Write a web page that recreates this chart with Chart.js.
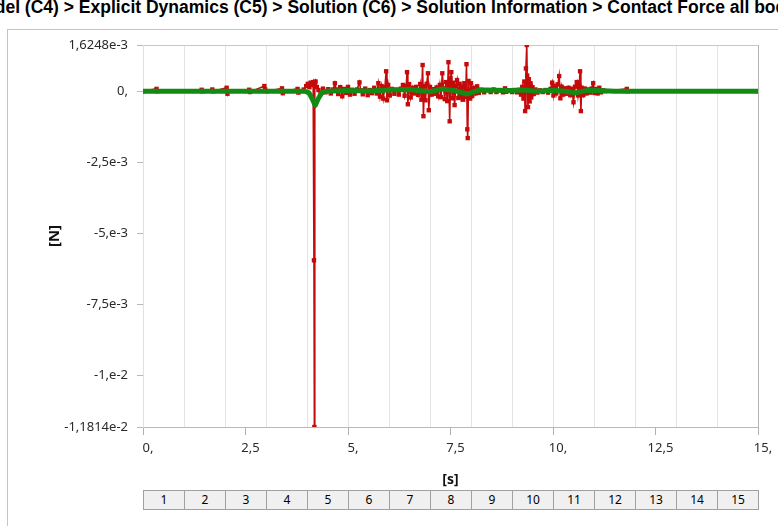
<!DOCTYPE html>
<html>
<head>
<meta charset="utf-8">
<script src="https://cdn.jsdelivr.net/npm/chart.js@4.4.1/dist/chart.umd.min.js"></script>
<style>
  html, body { margin: 0; padding: 0; background: #fff; overflow: hidden; }
  #wrap { position: relative; width: 778px; height: 526px; overflow: hidden; }
  #title { position: absolute; left: -300px; width: 1380px; top: -3px; line-height: 20px;
           text-align: center; white-space: nowrap; font: bold 17.5px "Liberation Sans", Arial, sans-serif; color: #000; }
  #frame { position: absolute; left: 7px; top: 29px; width: 900px; height: 700px; border: 1px solid #b7c6db; }
  canvas { position: absolute; left: 0; top: 0; }
  #table { position: absolute; top: 490px; height: 20px; }
  .cell { position: absolute; top: 0; height: 20px; box-sizing: border-box; border: 1px solid #a0a0a0; border-right: none;
          background: #f0f0f0; font: 12px "Noto Sans", sans-serif; color: #000; text-align: center; line-height: 18px;
          -webkit-font-smoothing: antialiased; }
  .cell.last { border-right: 1px solid #a0a0a0; }
</style>
</head>
<body>
<div id="wrap">
  <div id="frame"></div>
  <div id="title">Model (C4) &gt; Explicit Dynamics (C5) &gt; Solution (C6) &gt; Solution Information &gt; Contact Force all bodies</div>
  <canvas id="c" width="778" height="526"></canvas>
  <div id="table"></div>
</div>
<script>
// ---- data (time in s, force in N) ----
const redTime = [
  0.00, 0.33, 0.35, 1.43, 1.45, 1.69, 1.71, 2.04, 2.06, 2.08, 2.59, 2.61, 2.96, 2.98, 3.02,
  3.39, 3.41, 3.43, 3.77, 3.79, 3.81, 3.92, 3.98, 4.02, 4.06, 4.09, 4.12, 4.15, 4.17, 4.18,
  4.19, 4.21, 4.24, 4.28, 4.33, 4.39, 4.45, 4.52, 4.58, 4.64, 4.68, 4.71, 4.76, 4.81, 4.86,
  4.90, 4.95, 5.00, 5.05, 5.10, 5.16, 5.22, 5.28, 5.31, 5.36, 5.42, 5.48, 5.53, 5.58, 5.64,
  5.70, 5.74, 5.78, 5.82, 5.86, 5.90, 5.93, 5.95, 5.98, 6.02, 6.07, 6.13, 6.18, 6.24, 6.29,
  6.34, 6.38, 6.42, 6.44, 6.46, 6.49, 6.53, 6.57, 6.61, 6.66, 6.71, 6.76, 6.79, 6.82, 6.84,
  6.86, 6.89, 6.92, 6.95, 6.97, 7.00, 7.04, 7.08, 7.12, 7.16, 7.20, 7.24, 7.27, 7.30, 7.33,
  7.36, 7.39, 7.42, 7.45, 7.48, 7.50, 7.52, 7.54, 7.57, 7.60, 7.63, 7.66, 7.69, 7.72, 7.75,
  7.78, 7.81, 7.84, 7.87, 7.89, 7.91, 7.92, 7.94, 7.97, 8.00, 8.03, 8.07, 8.11, 8.15, 8.19,
  8.25, 8.32, 8.40, 8.48, 8.55, 8.62, 8.70, 8.78, 8.83, 8.86, 8.93, 9.00, 9.06, 9.12, 9.18,
  9.22, 9.25, 9.28, 9.30, 9.32, 9.34, 9.36, 9.37, 9.39, 9.41, 9.43, 9.45, 9.47, 9.50, 9.53,
  9.57, 9.62, 9.68, 9.75, 9.82, 9.88, 9.94, 9.98, 10.01, 10.05, 10.08, 10.12, 10.15, 10.18, 10.21,
  10.25, 10.29, 10.33, 10.38, 10.42, 10.46, 10.50, 10.54, 10.58, 10.61, 10.64, 10.66, 10.68, 10.70, 10.74,
  10.78, 10.82, 10.86, 10.90, 10.94, 10.98, 11.01, 11.05, 11.09, 11.13, 11.17, 11.22, 11.27, 11.80, 11.82,
  15.00
];
const redForce = [
  0, 0.8e-4, 0, 0.5e-4, 0, 0.6e-4, 0, 1.2e-4, -0.9e-4, 0, 0.5e-4, -0.3e-4, 1.8e-4, 0.6e-4, 0,
  1.0e-4, -0.7e-4, 0, 0.8e-4, -0.5e-4, 0, 0.6e-4, 1.8e-4, 2.6e-4, 1.4e-4, 3.0e-4, 2.2e-4, 3.2e-4, -5.95e-3, -1.1814e-2,
  2.0e-4, 3.4e-4, 1.5e-4, 0.4e-4, -0.6e-4, 0.9e-4, -0.4e-4, 0.7e-4, -0.8e-4, 0.6e-4, 2.8e-4, 0.6e-4, -1.0e-4, 1.4e-4, -1.8e-4,
  0.8e-4, -0.6e-4, 1.5e-4, -1.2e-4, 0.5e-4, -0.9e-4, 0.6e-4, 3.1e-4, 0.3e-4, -1.1e-4, 0.9e-4, -1.4e-4, 0.4e-4, -0.7e-4, 1.2e-4,
  -0.8e-4, 2.8e-4, -1.9e-4, 1.8e-4, -2.6e-4, 1.4e-4, 7.0e-4, -3.2e-4, 2.2e-4, -1.5e-4, 0.8e-4, -0.9e-4, 0.5e-4, -1.2e-4, 0.9e-4,
  2.2e-4, -1.6e-4, 1.8e-4, 6.7e-4, -4.6e-4, 2.5e-4, -2.2e-4, 1.2e-4, -0.8e-4, 1.5e-4, -1.3e-4, 2.5e-4, -3.0e-4, 9.2e-4, -8.8e-4,
  1.8e-4, -3.2e-4, 2.6e-4, 6.3e-4, -6.7e-4, 1.5e-4, -1.2e-4, 0.7e-4, -0.9e-4, 1.3e-4, -1.8e-4, 2.2e-4, -2.1e-4, 6.3e-4, 1.0e-4,
  -2.8e-4, 3.2e-4, -3.5e-4, 10.2e-4, -10.6e-4, 4.5e-4, 6.7e-4, -2.5e-4, 3.0e-4, -4.9e-4, 1.8e-4, 3.9e-4, -2.4e-4, 2.6e-4, -1.8e-4,
  1.5e-4, -3.0e-4, 2.8e-4, -2.0e-4, 9.5e-4, -13.4e-4, -16.5e-4, 3.6e-4, -2.6e-4, 2.8e-4, -1.7e-4, 1.2e-4, -0.8e-4, 1.7e-4, -0.6e-4,
  0.5e-4, -0.4e-4, 0.4e-4, -0.3e-4, 0.6e-4, -0.3e-4, 0.3e-4, -0.4e-4, 1.0e-4, -0.2e-4, 0.3e-4, -0.3e-4, 0.4e-4, -0.4e-4, 0.5e-4,
  -1.2e-4, 1.5e-4, -2.6e-4, 3.4e-4, -7.0e-4, 8.0e-4, 1.6248e-3, 5.5e-4, -5.6e-4, 4.2e-4, -3.6e-4, 2.8e-4, -2.2e-4, 1.4e-4, -1.0e-4,
  0.6e-4, -0.5e-4, 0.3e-4, -0.3e-4, 0.4e-4, -0.5e-4, 0.8e-4, 3.0e-4, -1.5e-4, 1.8e-4, -0.8e-4, 2.4e-4, 5.3e-4, -2.5e-4, 1.6e-4,
  -1.2e-4, 1.0e-4, -0.9e-4, 1.2e-4, -1.4e-4, 0.8e-4, -3.9e-4, 1.6e-4, 3.2e-4, -1.5e-4, 1.8e-4, 7.0e-4, -7.0e-4, 1.2e-4, -1.4e-4,
  0.9e-4, -0.8e-4, 0.6e-4, -0.5e-4, 0.9e-4, 2.8e-4, -0.6e-4, 0.8e-4, -0.8e-4, 1.2e-4, -0.4e-4, 0.3e-4, 0, 0.8e-4, 0,
  0
];
const greenTime  = [0, 3.95, 4.05, 4.12, 4.20, 4.28, 4.36, 4.45, 5.0, 5.5, 6.0, 6.5, 7.0, 7.3, 7.6, 7.9, 8.2, 8.6, 9.0, 9.3, 9.6, 10.0, 10.3, 10.55, 10.8, 11.1, 11.5, 15];
const greenForce = [0, 0, -0.6e-4, -2.5e-4, -5.0e-4, -2.5e-4, -0.6e-4, 0, 0.2e-4, 0.1e-4, 0.4e-4, 0.6e-4, -0.2e-4, 0.8e-4, 0.2e-4, -1.0e-4, 0.4e-4, 0.3e-4, 0.2e-4, 0.4e-4, 0, 0.3e-4, 0, -0.6e-4, 0.2e-4, 0.2e-4, 0, 0];

const xGridValues  = [0,1,2,3,4,5,6,7,8,9,10,11,12,13,14,15];
const xLabelValues = [0, 2.5, 5, 7.5, 10, 12.5, 15];
const xLabelTexts  = ['0,', '2,5', '5,', '7,5', '10,', '12,5', '15,'];
const yTickValues  = [1.6248e-3, 0, -2.5e-3, -5e-3, -7.5e-3, -1e-2, -1.1814e-2];
const yTickLabels  = ['1,6248e-3', '0,', '-2,5e-3', '-5,e-3', '-7,5e-3', '-1,e-2', '-1,1814e-2'];
const tableLabels  = ['1','2','3','4','5','6','7','8','9','10','11','12','13','14','15'];

const toXY = (xs, ys) => xs.map((x, i) => ({x, y: ys[i]}));
const isLabelX = v => xLabelValues.some(l => Math.abs(l - v) < 1e-9);
const isGridX = v => xGridValues.some(l => Math.abs(l - v) < 1e-9);
const allXTicks = Array.from(new Set(xGridValues.concat(xLabelValues))).sort((a, b) => a - b);

const tickFont = {family: '"Noto Sans", sans-serif', size: 13};
const chart = new Chart(document.getElementById('c'), {
  type: 'line',
  data: {
    datasets: [
      { label: 'filtered', data: toXY(greenTime, greenForce), borderColor: '#138a13', borderWidth: 5,
        pointRadius: 0, tension: 0, borderJoinStyle: 'round', borderCapStyle: 'round' },
      { label: 'raw', data: toXY(redTime, redForce), borderColor: '#c40a0a', backgroundColor: '#c40a0a', borderWidth: 1.6,
        pointStyle: 'rect', pointRadius: 3.1, pointBorderWidth: 0, tension: 0 }
    ]
  },
  options: {
    responsive: false, animation: false, devicePixelRatio: 1,
    layout: { padding: { left: 0, right: 20, top: 45, bottom: 36 } },
    plugins: { legend: { display: false }, tooltip: { enabled: false }, title: { display: false } },
    scales: {
      x: {
        type: 'linear', min: 0, max: 15,
        afterBuildTicks: s => { s.ticks = allXTicks.map(v => ({value: v})); },
        afterFit: s => { s.height = 63; },
        ticks: { autoSkip: false, maxRotation: 0, color: '#2a2a2a', font: tickFont, padding: 5, labelOffset: 5,
                 callback: v => { const i = xLabelValues.findIndex(l => Math.abs(l - v) < 1e-9); return i >= 0 ? xLabelTexts[i] : ''; } },
        grid: { color: c => (c.tick && isGridX(c.tick.value)) ? (c.tick.value === 15 ? '#b4b4b4' : '#e4e4e4') : 'rgba(0,0,0,0)',
                tickColor: c => (c.tick && isLabelX(c.tick.value)) ? '#b0b0b0' : 'rgba(0,0,0,0)', tickLength: 8, drawOnChartArea: true },
        border: { display: true, color: '#b8b8b8' },
        title: { display: true, text: '[s]', color: '#111', font: {family: '"Noto Sans", sans-serif', size: 14, weight: 'bold'}, padding: {top: 0, bottom: 2} }
      },
      y: {
        type: 'linear', min: -1.1814e-2, max: 1.6248e-3,
        afterBuildTicks: s => { s.ticks = yTickValues.map(v => ({value: v})); },
        afterFit: s => { s.width = 143; },
        ticks: { autoSkip: false, color: '#2a2a2a', font: tickFont, padding: 9,
                 callback: v => { const i = yTickValues.findIndex(l => Math.abs(l - v) < 1e-12); return i >= 0 ? yTickLabels[i] : ''; } },
        grid: { color: c => (c.tick && Math.abs(c.tick.value - 1.6248e-3) < 1e-12) ? '#c8c8c8' : 'rgba(0,0,0,0)',
                tickColor: '#b8b8b8', tickLength: 6 },
        border: { display: true, color: '#e0e0e0' },
        title: { display: true, text: '[N]', color: '#111', font: {family: '"Noto Sans", sans-serif', size: 15, weight: 'bold'}, padding: {top: 46, bottom: 0} }
      }
    }
  }
});

// bottom time-step table aligned with the x scale
const xs = chart.scales.x;
const table = document.getElementById('table');
tableLabels.forEach((t, i) => {
  const l = Math.round(xs.getPixelForValue(i));
  const r = Math.round(xs.getPixelForValue(i + 1));
  const d = document.createElement('div');
  d.className = 'cell' + (i === tableLabels.length - 1 ? ' last' : '');
  d.style.left = l + 'px';
  d.style.width = (r - l + (i === tableLabels.length - 1 ? 1 : 0)) + 'px';
  d.textContent = t;
  table.appendChild(d);
});
</script>
</body>
</html>
